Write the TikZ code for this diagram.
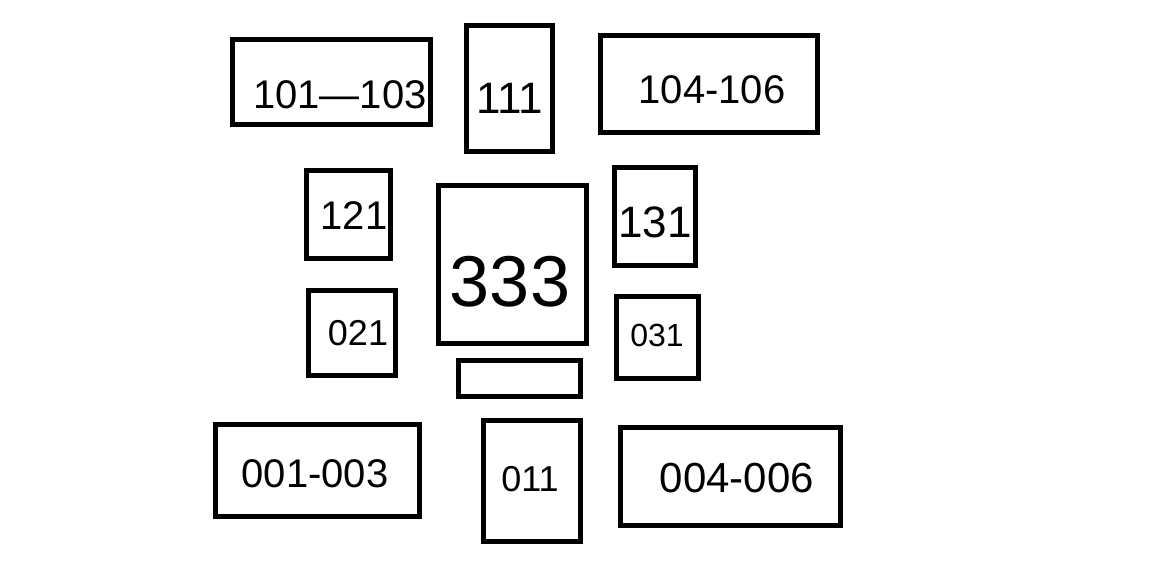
\documentclass[tikz,border=0pt]{standalone}
\usepackage{fontspec}
\setmainfont{Liberation Sans}
\begin{document}
\begin{tikzpicture}[x=1pt,y=-1pt,
  box/.style={draw=black,line width=5pt,fill=white},
  lbl/.style={inner sep=0pt,text=black}]
\useasboundingbox (0,0) rectangle (1167,565);
\fill[white] (0,0) rectangle (1167,565);
% boxes
\draw[box] (232,39) rectangle (430,124);
\draw[box] (466,25) rectangle (552,151);
\draw[box] (600,35) rectangle (817,132);
\draw[box] (306,170) rectangle (390,258);
\draw[box] (438,185) rectangle (586,343);
\draw[box] (614,167) rectangle (695,265);
\draw[box] (308,290) rectangle (395,375);
\draw[box] (616,296) rectangle (698,378);
\draw[box] (458,360) rectangle (580,396);
\draw[box] (215,424) rectangle (419,516);
\draw[box] (483,420) rectangle (580,541);
\draw[box] (620,427) rectangle (840,525);
% labels
\node[lbl,font=\fontsize{40}{40}\selectfont] (t1) at (340,95) {101—103};
\node[lbl,font=\fontsize{44}{44}\selectfont] (t2) at (510,98) {111};
\node[lbl,font=\fontsize{40}{40}\selectfont] (t3) at (712,90) {104-106};
\node[lbl,font=\fontsize{40}{40}\selectfont] (t4) at (354,216) {121};
\node[lbl,font=\fontsize{72}{72}\selectfont] (t5) at (510,282) {333};
\node[lbl,font=\fontsize{44}{44}\selectfont] (t6) at (655,222) {131};
\node[lbl,font=\fontsize{36}{36}\selectfont] (t7) at (358,333) {021};
\node[lbl,font=\fontsize{32}{32}\selectfont] (t8) at (657,335) {031};
\node[lbl,font=\fontsize{40}{40}\selectfont] (t9) at (315,474) {001-003};
\node[lbl,font=\fontsize{36}{36}\selectfont] (t10) at (530,479) {011};
\node[lbl,font=\fontsize{42}{42}\selectfont] (t11) at (737,478) {004-006};
\end{tikzpicture}
\end{document}
